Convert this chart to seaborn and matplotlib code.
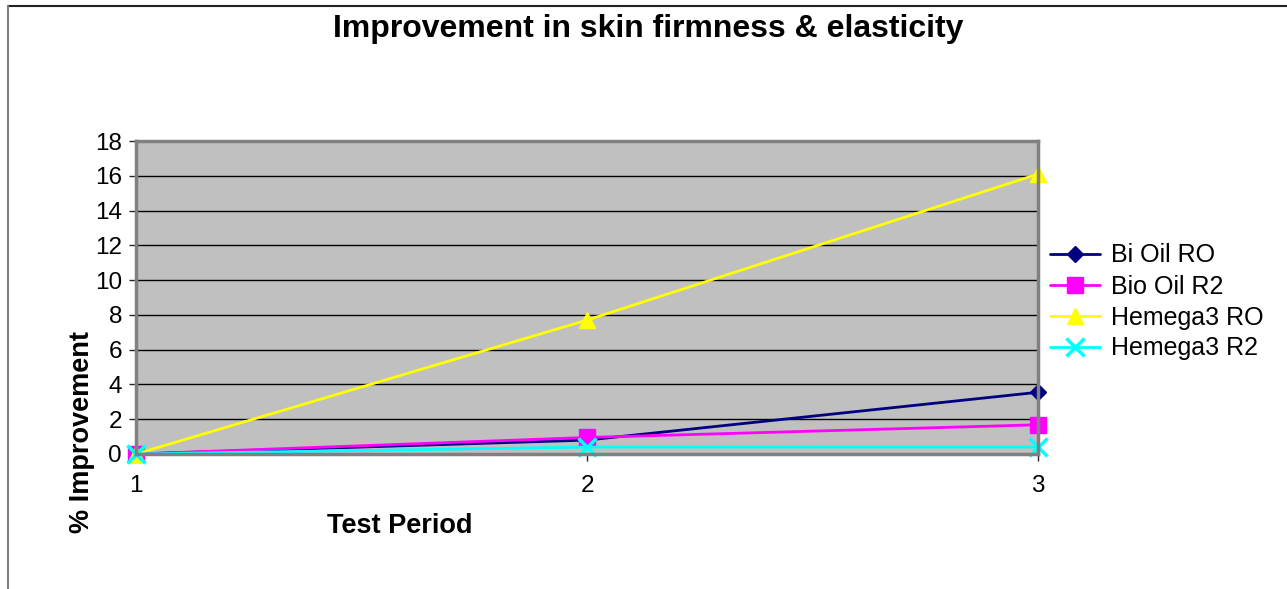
import matplotlib
matplotlib.use("Agg")
import matplotlib.pyplot as plt
import seaborn as sns
import pandas as pd
from matplotlib.lines import Line2D

periods = [1, 2, 3]
bi_oil_ro = [0.0, 0.8, 3.55]
bio_oil_r2 = [0.0, 0.95, 1.68]
hemega3_ro = [0.0, 7.7, 16.1]
hemega3_r2 = [0.0, 0.4, 0.4]
series_names = ["Bi Oil RO", "Bio Oil R2", "Hemega3 RO", "Hemega3 R2"]
y_ticks = [0, 2, 4, 6, 8, 10, 12, 14, 16, 18]

sns.set_theme(style="white")
plt.rcParams['font.family'] = ['Liberation Sans', 'DejaVu Sans']
plt.rcParams['text.color'] = 'black'

rows = []
for name, vals in zip(series_names, [bi_oil_ro, bio_oil_r2, hemega3_ro, hemega3_r2]):
    for p, v in zip(periods, vals):
        rows.append({"period": p, "value": v, "series": name})
df = pd.DataFrame(rows)

colors = {"Bi Oil RO": "#000080", "Bio Oil R2": "#FF00FF",
          "Hemega3 RO": "#FFFF00", "Hemega3 R2": "#00FFFF"}
markers = {"Bi Oil RO": "D", "Bio Oil R2": "s", "Hemega3 RO": "^", "Hemega3 R2": "x"}
msizes = {"Bi Oil RO": 8, "Bio Oil R2": 11, "Hemega3 RO": 11, "Hemega3 R2": 13}

fig = plt.figure(figsize=(12.87, 5.89), dpi=100)
ax = fig.add_axes([136/1287, 1-454/589, (1038-136)/1287, (454-141)/589])
ax.set_facecolor("#C0C0C0")

for name in series_names:
    sub = df[df["series"] == name]
    sns.lineplot(data=sub, x="period", y="value", ax=ax, color=colors[name],
                 linewidth=2, marker=markers[name], markersize=msizes[name],
                 markeredgecolor=colors[name], markeredgewidth=2.5 if name == "Hemega3 R2" else 1,
                 label=name, legend=False, clip_on=False)

ax.set_xlim(1, 3)
ax.set_ylim(0, 18)
ax.set_xticks(periods)
ax.set_xticklabels([str(p) for p in periods])
ax.set_yticks(y_ticks)
ax.yaxis.grid(True, color="black", linewidth=1)
ax.xaxis.grid(False)
ax.tick_params(axis="both", labelsize=17.5, labelcolor="black", length=5, width=1, direction="out")
ax.tick_params(axis="x", length=5, pad=10, bottom=True)
ax.tick_params(axis="y", left=True, pad=5)
for tl in ax.get_xticklines() + ax.get_yticklines():
    tl.set_color("#808080")
for s in ax.spines.values():
    s.set_color("#808080")
    s.set_linewidth(2.5)
ax.set_xlabel("")
ax.set_ylabel("")

fig.text(648/1287, 1-29/589, "Improvement in skin firmness & elasticity",
         ha="center", va="center", fontsize=23, fontweight="bold", color="black")
fig.text(400/1287, 1-526/589, "Test Period", ha="center", va="center",
         fontsize=19.5, fontweight="bold", color="black")
fig.text(82/1287, 1-432/589, "% Improvement", ha="center", va="center",
         fontsize=19.5, fontweight="bold", rotation=90, color="black")

handles = [Line2D([0], [0], color=colors[n], linewidth=2, marker=markers[n],
                  markersize=msizes[n], markeredgecolor=colors[n],
                  markeredgewidth=2.5 if n == "Hemega3 R2" else 1) for n in series_names]
leg = fig.legend(handles, series_names, loc="center left",
           bbox_to_anchor=(1040/1287, 1-302/589), frameon=False, fontsize=18,
           handlelength=2.0, handletextpad=0.45, labelspacing=0.28, borderaxespad=0)
for t in leg.get_texts():
    t.set_color("black")

fig.add_artist(Line2D([8/1287, 1], [1-6/589, 1-6/589], transform=fig.transFigure,
                      color="#222222", linewidth=1.5))
fig.add_artist(Line2D([8/1287, 8/1287], [0, 1-6/589], transform=fig.transFigure,
                      color="#808080", linewidth=1.5))

fig.savefig("out.png", dpi=100)
